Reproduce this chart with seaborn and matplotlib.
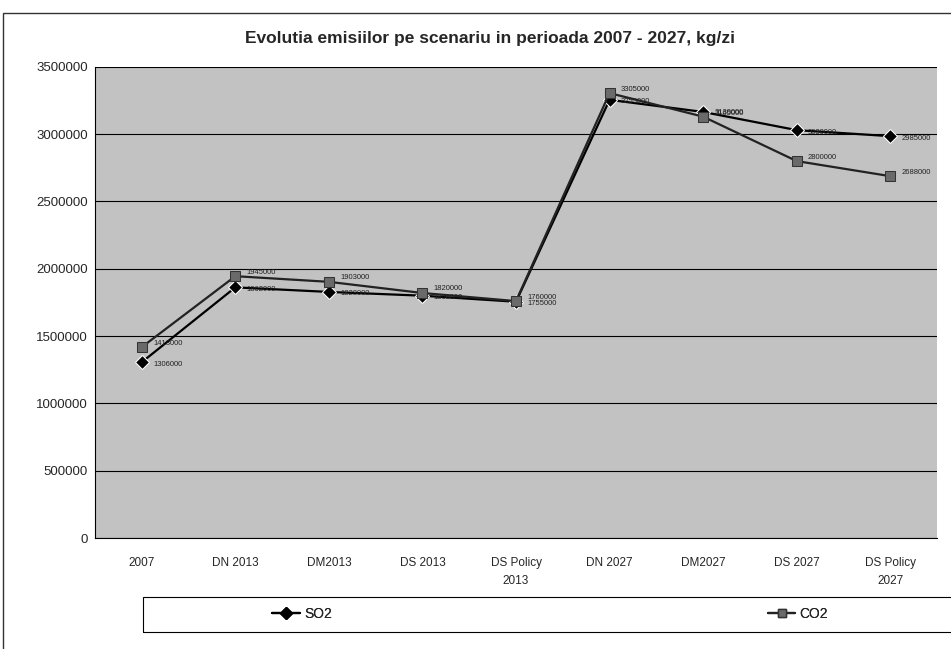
import pandas as pd
import numpy as np
import matplotlib
matplotlib.use("Agg")
import matplotlib.pyplot as plt
import seaborn as sns
from matplotlib.patches import Rectangle

# Date (kg/zi)
scenarii = ["2007", "DN 2013", "DM2013", "DS 2013", "DS Policy\n2013",
            "DN 2027", "DM2027", "DS 2027", "DS Policy\n2027"]
so2 = [1306000, 1862000, 1828000, 1800000, 1755000, 3255000, 3165000, 3030000, 2985000]
co2 = [1418000, 1945000, 1903000, 1820000, 1760000, 3305000, 3130000, 2800000, 2688000]
serii = ["SO2", "CO2"]

df = pd.DataFrame({
    "Scenariu": scenarii * 2,
    "Valoare": so2 + co2,
    "Serie": ["SO2"] * len(scenarii) + ["CO2"] * len(scenarii),
})

sns.set_style("white")
plt.rcParams["font.family"] = ["Liberation Sans", "DejaVu Sans"]

fig = plt.figure(figsize=(9.51, 6.49), dpi=100)
ax = fig.add_axes([0.0999, 0.171, 0.8854, 0.726])
ax.set_facecolor("#c2c2c2")

# chenar exterior
fig.patches.append(Rectangle((3 / 951, -0.02), 1.0, 1 - 13 / 649 + 0.02,
                             transform=fig.transFigure, fill=False,
                             edgecolor="#333333", lw=1.0))

sns.lineplot(data=df, x="Scenariu", y="Valoare", hue="Serie", style="Serie",
             markers={"SO2": "D", "CO2": "s"}, dashes=False, sort=False,
             palette={"SO2": "black", "CO2": "#222222"}, lw=1.6, ax=ax,
             markersize=7, legend=False)
ax.lines[1].set_markerfacecolor("#6a6a6a")
ax.lines[1].set_markeredgecolor("#333333")

# etichete de date
for i, v in enumerate(so2):
    ax.text(i + 0.12, v - 15000, f"{v}", fontsize=5.5, va="center", ha="left", color="#222222")
for i, v in enumerate(co2):
    ax.text(i + 0.12, v + 30000, f"{v}", fontsize=5.5, va="center", ha="left", color="#222222")

ax.set_xlim(-0.5, len(scenarii) - 0.5)
ax.set_ylim(0, 3500000)
yt = np.arange(0, 3500001, 500000)
ax.set_yticks(yt)
ax.set_yticklabels([f"{int(t)}" for t in yt], fontsize=9.5)
ax.set_xticks(range(len(scenarii)))
ax.set_xticklabels(scenarii, fontsize=8.5, linespacing=1.6)
ax.tick_params(axis="x", length=0, pad=14)
ax.tick_params(axis="y", length=3, pad=2)
ax.set_xticks(np.arange(-0.5, len(scenarii), 1), minor=True)
ax.tick_params(axis="x", which="minor", length=3)
ax.set_xlabel("")
ax.set_ylabel("")
ax.yaxis.grid(True, color="black", lw=0.8)
ax.set_axisbelow(True)
for s in ["top", "right"]:
    ax.spines[s].set_visible(False)
for s in ["left", "bottom"]:
    ax.spines[s].set_color("black")
    ax.spines[s].set_linewidth(0.8)

fig.text(0.515, 1 - 38 / 649, "Evolutia emisiilor pe scenariu in perioada 2007 - 2027, kg/zi",
         ha="center", va="center", fontsize=12.5, fontweight="bold")

# legenda: chenar + doua intrari
fig.patches.append(Rectangle((143 / 951, 1 - 632 / 649), 0.9, 35 / 649,
                             transform=fig.transFigure, fill=False,
                             edgecolor="black", lw=0.8))
h_so2 = plt.Line2D([], [], color="black", marker="D", markersize=6, lw=1.6)
h_co2 = plt.Line2D([], [], color="#222222", marker="s", markersize=6, lw=1.6,
                   markerfacecolor="#6a6a6a", markeredgecolor="#333333")
for h, lab, xc in [(h_so2, serii[0], 302 / 951), (h_co2, serii[1], 798 / 951)]:
    lg = fig.legend([h], [lab], loc="center", bbox_to_anchor=(xc, 1 - 614 / 649),
                    fontsize=10, frameon=False, handlelength=2.0, handletextpad=0.3)
    fig.add_artist(lg)

fig.savefig("out.png", dpi=100)
